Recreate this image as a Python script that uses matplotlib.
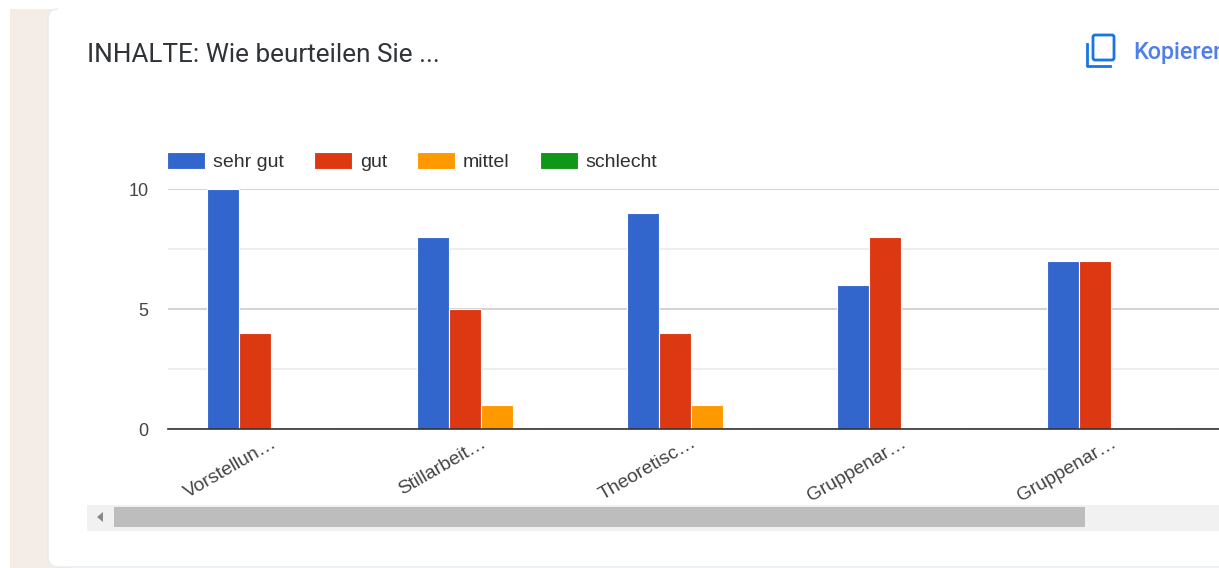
import numpy as np
import matplotlib.pyplot as plt
from matplotlib.patches import FancyBboxPatch, Polygon, Rectangle

plt.rcParams["font.family"] = ["Liberation Sans", "DejaVu Sans"]

W, H = 1219, 568

title = "INHALTE: Wie beurteilen Sie ..."
copy_label = "Kopieren"
categories = ["Vorstellun…", "Stillarbeit…", "Theoretisc…", "Gruppenar…", "Gruppenar…"]
series_names = ["sehr gut", "gut", "mittel", "schlecht"]
sehr_gut = [10, 8, 9, 6, 7]
gut = [4, 5, 4, 8, 7]
mittel = [0, 1, 1, 0, 0]
schlecht = [0, 0, 0, 0, 0]
major_ticks = [0, 5, 10]
minor_ticks = [2.5, 7.5]
COLORS = ["#3366cc", "#dc3912", "#ff9900", "#109618"]

fig = plt.figure(figsize=(W / 100, H / 100), dpi=100, facecolor="white")

# page background, card and scrollbar, laid out in pixels
bg = fig.add_axes([0, 0, 1, 1])
bg.set_xlim(0, W)
bg.set_ylim(H, 0)
bg.axis("off")
bg.add_patch(Rectangle((10, 9), 60, H - 9, fc="#f4ece6", ec="none"))
bg.add_patch(
    FancyBboxPatch((48, 9), W + 40, H - 10, boxstyle="round,pad=0,rounding_size=10", fc="white", ec="#e8eaee", lw=1.0)
)
# the card's top edge does not show in the screenshot
bg.add_patch(Rectangle((58, 6), W, 6, fc="white", ec="none"))
bg.add_patch(Rectangle((87, 505), W - 87, 26, fc="#f1f1f1", ec="none"))
bg.add_patch(Rectangle((114, 507), 971, 20, fc="#bdbdbd", ec="none"))
bg.add_patch(Polygon([[103, 512], [103, 522], [97, 517]], fc="#8a8a8a", ec="none"))
bg.text(87, 55, title, fontsize=18.8, family="Roboto", color="#303438", va="center", ha="left")

# copy icon and link, cut off by the right edge as in the screenshot
bg.add_patch(
    FancyBboxPatch((1093, 35), 21, 25, boxstyle="round,pad=0,rounding_size=2", fc="none", ec="#1a73e8", lw=2.0)
)
bg.plot([1087, 1087, 1110], [44, 66, 66], color="#1a73e8", lw=2.0, solid_joinstyle="round")
bg.text(1133, 52, copy_label, fontsize=16.8, family="Roboto", weight="medium", color="#4f7fe8", va="center", ha="left")

ax = fig.add_axes([168 / W, 1 - 429 / H, (W - 168) / W, 240 / H])
ax.patch.set_alpha(0)

x = np.arange(len(categories))
bar_w = 32 / 210
for i, (name, vals) in enumerate(zip(series_names, [sehr_gut, gut, mittel, schlecht])):
    ax.bar(x + (i - 1.5) * bar_w, vals, width=bar_w, color=COLORS[i], edgecolor="white", linewidth=0.8, label=name, zorder=3)

ax.set_xlim(-103 / 210, (W - 271) / 210)
ax.set_ylim(0, 10)
ax.set_yticks(major_ticks)
ax.set_yticks(minor_ticks, minor=True)
ax.set_xticks(x)
ax.set_xticklabels(categories, rotation=30, ha="right", rotation_mode="anchor", fontsize=13.9, color="#444444")
ax.tick_params(axis="x", length=0, pad=4)
ax.tick_params(axis="y", which="both", length=0, pad=14, labelsize=13, labelcolor="#444444")
ax.grid(axis="y", which="major", color="#cccccc", lw=1.2, zorder=1)
ax.grid(axis="y", which="minor", color="#ebebeb", lw=1.2, zorder=1)
for s in ["top", "right", "left"]:
    ax.spines[s].set_visible(False)
ax.spines["bottom"].set_color("#333333")
ax.spines["bottom"].set_linewidth(1.2)
ax.spines["bottom"].set_zorder(4)

handles, labels = ax.get_legend_handles_labels()
fs = 14
fs_px = fs * 100 / 72
ax.legend(
    handles,
    labels,
    ncol=4,
    frameon=False,
    loc="lower left",
    bbox_to_anchor=(-1 / (W - 168), 1 + 18 / 240),
    borderpad=0,
    borderaxespad=0,
    fontsize=fs,
    labelcolor="#303030",
    handlelength=38 / fs_px,
    handleheight=19 / fs_px,
    handletextpad=8 / fs_px,
    columnspacing=30 / fs_px,
)

fig.savefig("out.png", dpi=100)
